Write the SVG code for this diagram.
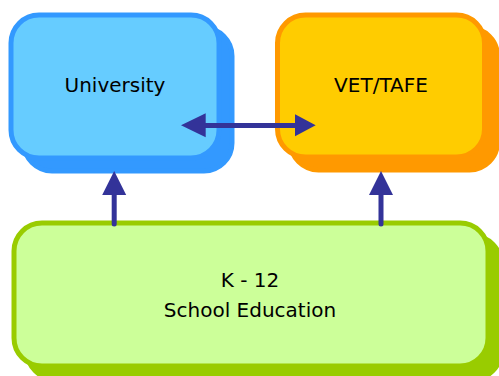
<svg xmlns="http://www.w3.org/2000/svg" width="499" height="376" viewBox="0 0 499 376">
<style>
.lbl{font-family:"DejaVu Sans","Liberation Sans",sans-serif;font-size:20px;fill:#000;text-anchor:middle}
.uni{fill:#66CCFF;stroke:#3399FF;stroke-width:5}
.uni-sh{fill:#3399FF;stroke:#3399FF;stroke-width:5}
.vet{fill:#FFCC00;stroke:#FF9900;stroke-width:5}
.vet-sh{fill:#FF9900;stroke:#FF9900;stroke-width:5}
.k12{fill:#CCFF99;stroke:#99CC00;stroke-width:5}
.k12-sh{fill:#99CC00;stroke:#99CC00;stroke-width:5}
.shaft{stroke:#333399;stroke-width:5;fill:none}
.head{fill:#333399}
</style>
<rect width="499" height="376" fill="#FFFFFF"/>
<g id="university">
<rect class="uni-sh" x="24" y="28" width="208" height="143" rx="28"/>
<rect class="uni" x="11" y="15" width="208" height="143" rx="28"/>
<text class="lbl" x="115" y="92">University</text>
</g>
<g id="vet-tafe">
<rect class="vet-sh" x="290.5" y="28" width="207" height="142" rx="28"/>
<rect class="vet" x="277.5" y="15" width="207" height="142" rx="28"/>
<text class="lbl" x="381" y="92">VET/TAFE</text>
</g>
<g id="k12">
<rect class="k12-sh" x="27" y="236" width="474" height="143" rx="28"/>
<rect class="k12" x="14" y="223" width="474" height="143" rx="28"/>
<text class="lbl" x="250" y="287">K - 12</text>
<text class="lbl" x="250" y="317">School Education</text>
</g>
<g id="connectors">
<line class="shaft" x1="114.2" y1="224" x2="114.2" y2="192" stroke-linecap="round"/>
<polygon class="head" points="114.2,171 102.2,195 126.2,195"/>
<line class="shaft" x1="381" y1="224" x2="381" y2="192" stroke-linecap="round"/>
<polygon class="head" points="381,171 369,195 393,195"/>
<line class="shaft" x1="203" y1="125.5" x2="298" y2="125.5"/>
<polygon class="head" points="181,125.3 205.7,113.3 205.7,137.3"/>
<polygon class="head" points="315.7,125.3 295,114.3 295,136.3"/>
</g>
</svg>
